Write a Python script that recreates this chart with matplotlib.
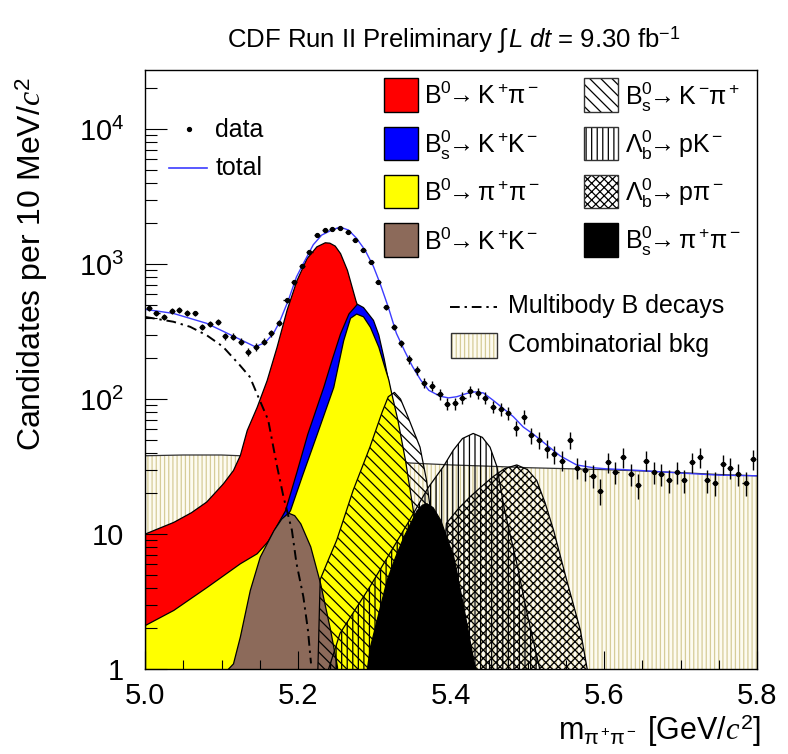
import numpy as np
import matplotlib
matplotlib.use('Agg')
import matplotlib.pyplot as plt
from matplotlib.patches import Rectangle
from matplotlib.lines import Line2D
from matplotlib.ticker import FixedLocator, FixedFormatter, NullFormatter, MultipleLocator, LogLocator

plt.rcParams['font.family'] = ['Liberation Sans', 'DejaVu Sans']
plt.rcParams['mathtext.fontset'] = 'custom'
plt.rcParams['mathtext.rm'] = 'Liberation Sans'
plt.rcParams['mathtext.it'] = 'Liberation Serif:italic'
plt.rcParams['mathtext.sf'] = 'Liberation Sans:italic'
plt.rcParams['mathtext.bf'] = 'Liberation Sans:bold'
plt.rcParams['hatch.linewidth'] = 0.9

# ---------------- data ----------------
data_x = [5.005, 5.015, 5.025, 5.035, 5.045, 5.055, 5.065, 5.075, 5.085, 5.095,
          5.105, 5.115, 5.125, 5.135, 5.145, 5.155, 5.165, 5.175, 5.185, 5.195,
          5.205, 5.215, 5.225, 5.235, 5.245, 5.255, 5.265, 5.275, 5.285, 5.295,
          5.305, 5.315, 5.325, 5.335, 5.345, 5.355, 5.365, 5.375, 5.385, 5.395,
          5.405, 5.415, 5.425, 5.435, 5.445, 5.455, 5.465, 5.475, 5.485, 5.495,
          5.505, 5.515, 5.525, 5.535, 5.545, 5.555, 5.565, 5.575, 5.585, 5.595,
          5.605, 5.615, 5.625, 5.635, 5.645, 5.655, 5.665, 5.675, 5.685, 5.695,
          5.705, 5.715, 5.725, 5.735, 5.745, 5.755, 5.765, 5.775, 5.785, 5.795]
data_y = [470, 431, 403, 449, 456, 436, 431, 343, 359, 374,
          293, 290, 266, 224, 244, 266, 307, 364, 541, 731,
          966, 1233, 1640, 1786, 1808, 1838, 1734, 1506, 1270, 1030,
          739, 478, 343, 258, 197, 164, 132, 125, 109, 92,
          93, 102, 115, 110, 102, 88, 84, 79, 61, 74,
          54, 50, 43, 39, 35, 50, 31, 30, 27, 21,
          34, 29, 37, 28, 23, 35, 29, 28, 25, 29,
          25, 34, 37, 25, 24, 33, 31, 28, 24, 36]

total_x = [5.000, 5.037, 5.0805, 5.124, 5.144, 5.157, 5.168, 5.176, 5.1875, 5.198,
           5.207, 5.220, 5.231, 5.244, 5.255, 5.266, 5.276, 5.2876, 5.2986, 5.3072,
           5.318, 5.3286, 5.3399, 5.3497, 5.3605, 5.371, 5.3856, 5.3966, 5.4074, 5.4205,
           5.4314, 5.4423, 5.455, 5.4684, 5.4815, 5.4945, 5.5075, 5.5425, 5.5641, 5.5859,
           5.60, 5.65, 5.70, 5.75, 5.80]
total_y = [462, 431, 364, 277, 244, 262, 307, 374, 541, 803,
           1010, 1392, 1640, 1786, 1880, 1786, 1565, 1270, 960, 720,
           480, 307, 224, 174, 138, 116, 105, 102, 104, 110,
           113, 111, 98, 85, 74, 62, 55, 38, 32.5, 31,
           30.5, 29.5, 28.3, 27.3, 27]

bkg_x = [5.00, 5.05, 5.10, 5.15, 5.20, 5.25, 5.30, 5.35, 5.40, 5.45,
         5.50, 5.55, 5.60, 5.65, 5.70, 5.75, 5.80]
bkg_y = [38, 38.5, 38.5, 37.5, 37, 36.5, 35, 33.5, 32.5, 31.8,
         31, 30.5, 30, 29.3, 28.5, 27.6, 27]

multibody_x = [5.000, 5.037, 5.059, 5.081, 5.102, 5.124, 5.137, 5.148, 5.161, 5.172,
               5.181, 5.192, 5.198, 5.207, 5.213, 5.217]
multibody_y = [406, 374, 343, 296, 244, 178, 146, 104, 70, 33,
               18.9, 10.7, 6.07, 3.43, 1.94, 1.1]

b0_kpi_x = [5.000, 5.037, 5.060, 5.080, 5.102, 5.115, 5.124, 5.133, 5.146, 5.159,
            5.172, 5.185, 5.198, 5.211, 5.224, 5.235, 5.241, 5.248, 5.255, 5.264,
            5.275, 5.290, 5.300, 5.320, 5.340, 5.360, 5.380]
b0_kpi_y = [10.1, 12.3, 14.5, 17.4, 23.8, 29.8, 38.5, 59, 87.6, 138,
            244, 457, 760, 1103, 1353, 1450, 1440, 1370, 1205, 905,
            541, 300, 180, 60, 15, 4, 1]

bs_kk_x = [5.000, 5.100, 5.150, 5.183, 5.198, 5.212, 5.233, 5.245, 5.255, 5.266,
           5.277, 5.285, 5.298, 5.305, 5.312, 5.320, 5.330, 5.340, 5.360, 5.380]
bs_kk_y = [1.5, 3.5, 7, 15, 29, 55, 123, 205, 307, 431,
           508, 480, 386, 300, 200, 118, 50, 20, 5, 1.2]

b0_pipi_x = [5.000, 5.037, 5.081, 5.124, 5.146, 5.165, 5.1895, 5.205, 5.2244, 5.2461,
             5.259, 5.268, 5.276, 5.285, 5.294, 5.305, 5.312, 5.318, 5.322, 5.330,
             5.340, 5.351, 5.360, 5.370, 5.380, 5.390]
b0_pipi_y = [2.12, 2.74, 4.07, 6.07, 7.2, 9.5, 15, 27, 55, 123,
             272, 400, 430, 410, 343, 244, 180, 140, 110, 70,
             35, 14, 7, 3.5, 1.8, 1]

b0_kk_x = [5.108, 5.115, 5.124, 5.137, 5.150, 5.168, 5.178, 5.187, 5.195, 5.203,
           5.216, 5.229, 5.242, 5.251]
b0_kk_y = [1.0, 1.1, 1.74, 3.85, 6.8, 10.7, 13, 14.4, 13.8, 12,
           8.1, 4.3, 1.95, 1.04]

bs_kpi_x = [5.226, 5.229, 5.240, 5.2506, 5.272, 5.294, 5.310, 5.318, 5.326, 5.334,
            5.342, 5.3595, 5.368, 5.3725, 5.380, 5.390, 5.400]
bs_kpi_y = [1, 4.6, 6.5, 9, 21, 44, 80, 104, 112, 100,
            78, 44, 25, 16, 8, 3.5, 1.2]

lb_pk_x = [5.240, 5.255, 5.294, 5.346, 5.370, 5.390, 5.403, 5.415, 5.429, 5.441,
           5.451, 5.460, 5.470, 5.486, 5.500, 5.516]
lb_pk_y = [1.0, 1.84, 4.07, 12.7, 22, 31.6, 41.8, 51, 55.6, 52,
           44, 31.6, 15, 6.06, 2.5, 1]

lb_ppi_x = [5.386, 5.390, 5.394, 5.410, 5.425, 5.440, 5.455, 5.470, 5.486, 5.500,
            5.512, 5.523, 5.534, 5.551, 5.569, 5.578]
lb_ppi_y = [1.0, 6, 12, 15.5, 18.9, 22.5, 26.6, 30.5, 32.5, 30,
            25, 17, 10.7, 4.6, 1.95, 1.0]

bs_pipi_x = [5.290, 5.294, 5.305, 5.316, 5.327, 5.338, 5.355, 5.362, 5.368, 5.376,
             5.386, 5.403, 5.416, 5.429, 5.432]
bs_pipi_y = [1.0, 1.46, 2.6, 4.6, 6.8, 9.6, 15, 16.5, 16.9, 15.8,
             12.7, 6.8, 2.9, 1.17, 1.0]

xticks = [5.0, 5.2, 5.4, 5.6, 5.8]
xtick_labels = ['5.0', '5.2', '5.4', '5.6', '5.8']
yticks = [1, 10, 100, 1000, 10000]
ytick_labels = ['1', '10', r'$\mathregular{10^{2}}$', r'$\mathregular{10^{3}}$', r'$\mathregular{10^{4}}$']

legend_col1 = [r'$\mathregular{B^0\!\!\rightarrow K^+\!\pi^-}$',
               r'$\mathregular{B_s^0\!\!\rightarrow K^+\!K^-}$',
               r'$\mathregular{B^0\!\!\rightarrow \pi^+\!\pi^-}$',
               r'$\mathregular{B^0\!\!\rightarrow K^+\!K^-}$']
legend_col2 = [r'$\mathregular{B_s^0\!\!\rightarrow K^-\!\pi^+}$',
               r'$\mathregular{\Lambda_b^0\!\!\rightarrow pK^-}$',
               r'$\mathregular{\Lambda_b^0\!\!\rightarrow p\pi^-}$',
               r'$\mathregular{B_s^0\!\!\rightarrow \pi^+\!\pi^-}$']

# ---------------- figure ----------------
W, H = 788, 754
fig = plt.figure(figsize=(W / 100, H / 100), dpi=100)


def fx(p):
    return p / W


def fy(p):
    return 1 - p / H


ax = fig.add_axes([fx(145), fy(669), (757 - 145) / W, (669 - 70) / H])
ax.set_yscale('log')
ax.set_xlim(5.0, 5.8)
ax.set_ylim(1, 2.74e4)
BASE = 0.3

RED, BLUE, YEL, BROWN = '#ff0000', '#0000ff', '#ffff00', '#8c6a5a'
BKG_FC, BKG_HC = '#fdfbf0', '#d6cc98'

# combinatorial background
ax.fill_between(bkg_x, BASE, bkg_y, facecolor=BKG_FC, edgecolor='none', zorder=1)
ax.fill_between(bkg_x, BASE, bkg_y, facecolor='none', edgecolor=BKG_HC, hatch='||||',
                linewidth=0, zorder=1.1)
ax.plot(bkg_x, bkg_y, color='#333333', lw=0.9, zorder=1.2)


def solid(x, y, c, z):
    ax.fill_between(x, BASE, y, facecolor=c, edgecolor='black', linewidth=0.9, zorder=z)


def hatched(x, y, h, z):
    ax.fill_between(x, BASE, y, facecolor='none', edgecolor='black', hatch=h,
                    linewidth=0.9, zorder=z)


solid(b0_kpi_x, b0_kpi_y, RED, 2)
solid(bs_kk_x, bs_kk_y, BLUE, 3)
solid(b0_pipi_x, b0_pipi_y, YEL, 4)
solid(b0_kk_x, b0_kk_y, BROWN, 5)
hatched(bs_kpi_x, bs_kpi_y, '\\\\\\', 6)
hatched(lb_pk_x, lb_pk_y, '|||', 7)
hatched(lb_ppi_x, lb_ppi_y, 'xxxx', 8)
solid(bs_pipi_x, bs_pipi_y, 'black', 9)

ax.plot(multibody_x, multibody_y, color='black', lw=1.4, ls=(0, (5, 2.5, 1.2, 2.5)), zorder=10)
ax.plot(total_x, total_y, color='#3c3cff', lw=1.0, zorder=11)
ax.errorbar(data_x, data_y, yerr=np.sqrt(data_y), xerr=0.004, fmt='o', ms=2.8,
            color='black', ecolor='black', elinewidth=1.0, capsize=0, zorder=12)

# axes styling
ax.xaxis.set_major_locator(FixedLocator(xticks))
ax.xaxis.set_major_formatter(FixedFormatter(xtick_labels))
ax.xaxis.set_minor_locator(MultipleLocator(0.05))
ax.yaxis.set_major_locator(FixedLocator(yticks))
ax.yaxis.set_major_formatter(FixedFormatter(ytick_labels))
ax.yaxis.set_minor_locator(LogLocator(base=10, subs=np.arange(2, 10)))
ax.yaxis.set_minor_formatter(NullFormatter())
ax.tick_params(axis='x', which='major', direction='in', length=13, width=0.8,
               labelsize=21, pad=9, top=False)
ax.tick_params(axis='x', which='minor', direction='in', length=6.5, width=0.8, top=False)
ax.tick_params(axis='y', which='major', direction='in', length=16, width=0.8,
               labelsize=21, pad=15, right=False)
ax.tick_params(axis='y', which='minor', direction='in', length=8.5, width=0.8, right=False)
ax.xaxis.set_zorder(20)
ax.yaxis.set_zorder(20)
for s in ax.spines.values():
    s.set_zorder(20)
    s.set_linewidth(1.0)

# labels and title
fig.text(fx(32), fy(264), r'Candidates per 10 MeV/$c^2$', rotation=90,
         ha='center', va='center', fontsize=23)
fig.text(fx(761), fy(740), r'm$_{\mathregular{\pi^+\!\pi^-}}$ [GeV/$c^2$]',
         ha='right', va='baseline', fontsize=22)
fig.text(fx(454), fy(40), r'CDF Run II Preliminary $\int\,\mathsf{L\ dt}$ = 9.30 fb$^{\mathregular{-1}}$',
         ha='center', va='center', fontsize=18.5)

# left legend
fig.add_artist(Line2D([fx(189)], [fy(129)], marker='o', ms=2.8, color='black',
                      transform=fig.transFigure))
fig.text(fx(215.5), fy(136.7), 'data', ha='left', va='baseline', fontsize=18)
fig.add_artist(Line2D([fx(168.6), fx(207.3)], [fy(167.7), fy(167.7)], color='#3c3cff',
                      lw=1.2, transform=fig.transFigure))
fig.text(fx(215.5), fy(175), 'total', ha='left', va='baseline', fontsize=18)

# right legend


def box(x0, y0, x1, y1, fc, hatch=None, hc='black'):
    r = Rectangle((fx(x0), fy(y1)), fx(x1) - fx(x0), fy(y0) - fy(y1),
                  transform=fig.transFigure, facecolor=fc, edgecolor=hc,
                  lw=0 if hatch else 1.0, hatch=hatch)
    fig.add_artist(r)
    if hatch:
        fig.add_artist(Rectangle((fx(x0), fy(y1)), fx(x1) - fx(x0), fy(y0) - fy(y1),
                                 transform=fig.transFigure, facecolor='none',
                                 edgecolor='#333333', lw=1.0))


rows = [(78.3, 111.7), (126.7, 160), (175, 208.3), (223.3, 256.7)]
col1_fc = [RED, BLUE, YEL, BROWN]
col2_style = [('white', '\\\\\\'), ('white', '|||'), ('white', 'xxxx'), ('black', None)]
for i, (y0, y1) in enumerate(rows):
    box(384, y0, 417.7, y1, col1_fc[i])
    fig.text(fx(424), fy((y0 + y1) / 2 + 9.5), legend_col1[i], ha='left',
             va='baseline', fontsize=18)
    fc, h = col2_style[i]
    box(584, y0, 618.3, y1, fc, h)
    fig.text(fx(625), fy((y0 + y1) / 2 + 9.5), legend_col2[i], ha='left',
             va='baseline', fontsize=18)

fig.add_artist(Line2D([fx(450), fx(496.7)], [fy(306.7), fy(306.7)], color='black', lw=1.4,
                      ls=(0, (5, 2.5, 1.2, 2.5)), transform=fig.transFigure))
fig.text(fx(508), fy(313.3), 'Multibody B decays', ha='left', va='baseline', fontsize=18)
box(451, 332.7, 496.7, 358.3, BKG_FC, '||||', BKG_HC)
fig.text(fx(508), fy(351.7), 'Combinatorial bkg', ha='left', va='baseline', fontsize=18)

fig.savefig('out.png', dpi=100)
